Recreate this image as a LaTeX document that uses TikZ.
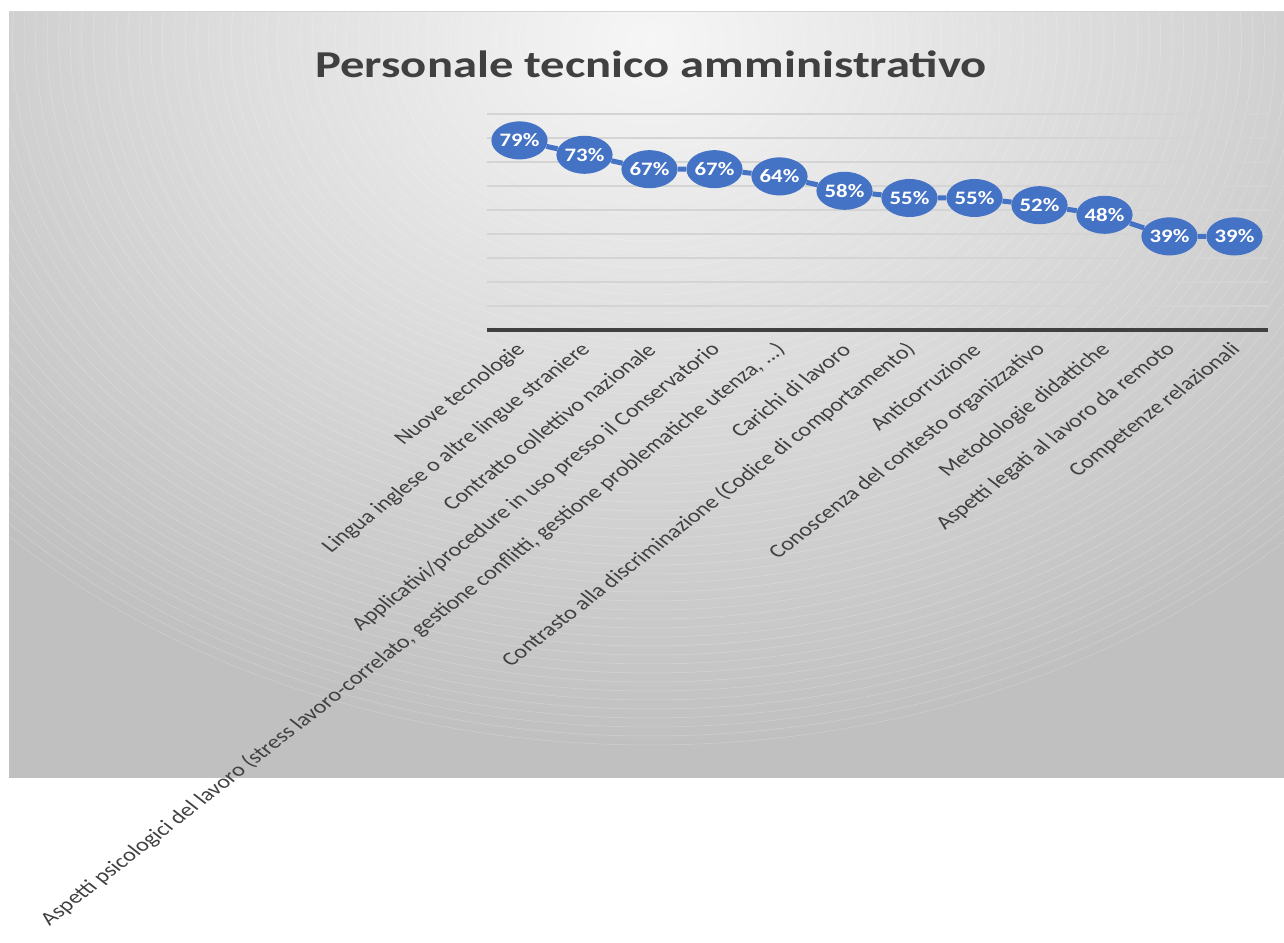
\documentclass[tikz,border=0pt]{standalone}
\usepackage{fontspec}
\setmainfont{Carlito}
\usepackage{xcolor}
\usepackage{tikz}
\usetikzlibrary{%
shapes,
backgrounds}

\definecolor{serieblue}{RGB}{68,114,196}
\definecolor{gridgray}{RGB}{212,212,212}
\definecolor{axisgray}{RGB}{64,64,64}
\definecolor{titlegray}{RGB}{64,64,64}
\definecolor{bginner}{RGB}{246,246,246}
\definecolor{bgouter}{RGB}{192,192,192}
\pgfdeclareradialshading{chartbg}{\pgfpointorigin}{color(0bp)=(bginner); color(25bp)=(bgouter); color(50bp)=(bgouter)}

\begin{document}
\begin{tikzpicture}[>=latex,line join=bevel,x=1bp,y=1bp,
  pvalue/.style={ellipse,fill=serieblue,minimum width=37.5bp,minimum height=38bp,inner sep=0pt,
    xscale=1.2,text=white,font=\bfseries\fontsize{19bp}{22bp}\selectfont},
  catlabel/.style={anchor=east,xscale=1.28,rotate=45,inner sep=1bp,text=titlegray,
    font=\fontsize{19bp}{23bp}\selectfont},
  serieline/.style={serieblue,line width=5bp},
  gridline/.style={gridgray,line width=1.5bp},
  ]
  \useasboundingbox (0,0) rectangle (1284,943);
%%
\begin{scope}
  % chart background
  \fill[bgouter] (9,165) rectangle (1284,931);
  \clip (9,165) rectangle (1284,931);
  \shade[shading=chartbg] (650,903) ellipse [x radius=900, y radius=705];
  \foreach \r in {102,111,...,705}
    \draw[white,opacity=0.25,line width=0.5bp] (650,903) ellipse [x radius=1.28*\r, y radius=\r];
\end{scope}
  \draw[gridgray,line width=1bp] (9,931) -- (1284,931);
  \node[font=\bfseries\fontsize{38bp}{44bp}\selectfont,text=titlegray,xscale=1.28] (title) at (651,879) {Personale tecnico amministrativo};
%%
  % Grid
  \foreach \k in {1,...,9}
    \draw[gridline] (487,613+24*\k) -- (1268,613+24*\k);
  \draw[axisgray,line width=4bp] (487,613) -- (1268,613);
%%
  % Node: values
  \node[pvalue] (m1) at (519.5,802.6) {79\%};
  \node[pvalue] (m2) at (584.5,788.2) {73\%};
  \node[pvalue] (m3) at (649.5,773.8) {67\%};
  \node[pvalue] (m4) at (714.5,773.8) {67\%};
  \node[pvalue] (m5) at (779.5,766.6) {64\%};
  \node[pvalue] (m6) at (844.5,752.2) {58\%};
  \node[pvalue] (m7) at (909.5,745.0) {55\%};
  \node[pvalue] (m8) at (974.5,745.0) {55\%};
  \node[pvalue] (m9) at (1039.5,737.8) {52\%};
  \node[pvalue] (m10) at (1104.5,728.2) {48\%};
  \node[pvalue] (m11) at (1169.5,706.6) {39\%};
  \node[pvalue] (m12) at (1234.5,706.6) {39\%};
  % Edge: serie
  \draw[serieline] (m1) -- (m2) -- (m3) -- (m4) -- (m5) -- (m6) -- (m7) -- (m8) -- (m9) -- (m10) -- (m11) -- (m12);
%%
  % Node: categories
  \node[catlabel] (c1) at (522.5,597) {Nuove tecnologie};
  \node[catlabel] (c2) at (587.5,597) {Lingua inglese o altre lingue straniere};
  \node[catlabel] (c3) at (652.5,597) {Contratto collettivo nazionale};
  \node[catlabel] (c4) at (717.5,597) {Applicativi/procedure in uso presso il Conservatorio};
  \node[catlabel] (c5) at (782.5,597) {Aspetti psicologici del lavoro (stress lavoro-correlato, gestione conflitti, gestione problematiche utenza, ...)};
  \node[catlabel] (c6) at (847.5,597) {Carichi di lavoro};
  \node[catlabel] (c7) at (912.5,597) {Contrasto alla discriminazione (Codice di comportamento)};
  \node[catlabel] (c8) at (977.5,597) {Anticorruzione};
  \node[catlabel] (c9) at (1042.5,597) {Conoscenza del contesto organizzativo};
  \node[catlabel] (c10) at (1107.5,597) {Metodologie didattiche};
  \node[catlabel] (c11) at (1172.5,597) {Aspetti legati al lavoro da remoto};
  \node[catlabel] (c12) at (1237.5,597) {Competenze relazionali};
%
\end{tikzpicture}
\end{document}
